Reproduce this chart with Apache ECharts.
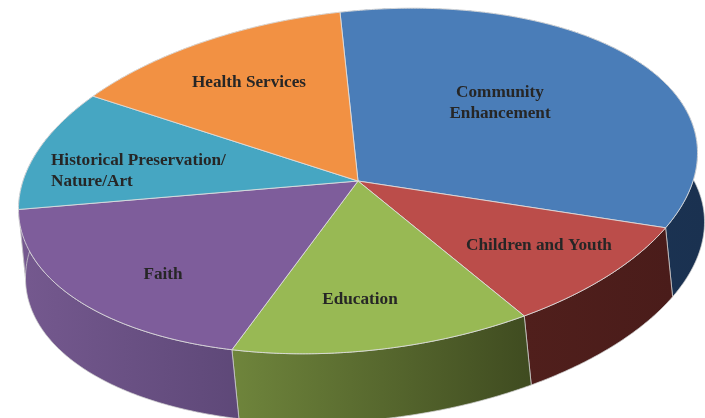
<!DOCTYPE html>
<html>
<head>
<meta charset="utf-8">
<style>html,body{margin:0;padding:0;background:#fff}#c{width:705px;height:418px}</style>
<script src="https://cdn.jsdelivr.net/npm/echarts@6/dist/echarts.min.js"></script>
</head>
<body>
<div id="c"></div>
<script>
const categories = ['Community Enhancement','Children and Youth','Education','Faith','Historical Preservation/Nature/Art','Health Services'];
const shares = [32.8, 9.9, 14.2, 18.9, 10.8, 13.4];
const topColors = ['#4a7db8','#bb4d4a','#98b954','#7e5d9b','#46a6c2','#f29143'];
const wallFrom = ['#1d3a5c','#501f1c','#6f853c','#75598f','#75598f','#a06028'];
const wallTo   = ['#1a3150','#4a1c1a','#3f4b20','#5e4878','#75598f','#a06028'];

const START_DEG = -3.04, CX = 358, CY = 181, RX = 339.5, RY = 170.5, SHEAR = -28, DX = 7, DY = 69;
const total = shares.reduce((a, b) => a + b, 0);

function pt(deg) {
  const t = deg * Math.PI / 180, u = Math.sin(t), v = -Math.cos(t);
  return [CX + RX * u, CY + RY * v + SHEAR * u];
}
function arc(i) {
  let before = 0;
  for (let k = 0; k < i; k++) before += shares[k];
  const a0 = START_DEG + before / total * 360, a1 = a0 + shares[i] / total * 360;
  const pts = [], n = Math.ceil((a1 - a0) * 2);
  for (let s = 0; s <= n; s++) pts.push(pt(a0 + (a1 - a0) * s / n));
  return pts;
}
const chart = echarts.init(document.getElementById('c'), null, {renderer: 'canvas'});
const rows = shares.map((v, i) => [i, v]);

const txt = (text, x, y, align) => ({
  type: 'text', x, y, z: 50, silent: true,
  style: {text, font: 'bold 17.2px "Liberation Serif", serif', fill: '#262626',
          align: align || 'center', verticalAlign: 'middle', lineHeight: 21}
});

chart.setOption({
  animation: false,
  backgroundColor: '#ffffff',
  series: [
    {
      type: 'custom', coordinateSystem: 'none', z: 1, silent: true, data: rows,
      renderItem(p, api) {
        const i = api.value(0), a = arc(i);
        const low = a.map(q => [q[0] + DX, q[1] + DY]).reverse();
        return {type: 'polygon', shape: {points: a.concat(low)},
          style: {
            fill: new echarts.graphic.LinearGradient(0, 0, 1, 0, [
              {offset: 0, color: wallFrom[i]}, {offset: 1, color: wallTo[i]}]),
            stroke: 'rgba(205,205,205,0.75)', lineWidth: 1}};
      }
    },
    {
      type: 'custom', coordinateSystem: 'none', z: 2, silent: true, data: rows,
      renderItem(p, api) {
        const i = api.value(0);
        return {type: 'polygon', shape: {points: [[CX, CY]].concat(arc(i))},
          style: {fill: topColors[i], stroke: 'rgba(222,222,222,0.85)', lineWidth: 1}};
      }
    }
  ],
  graphic: {elements: [
    txt('Community\nEnhancement', 500, 103),
    txt('Children and Youth', 539, 246),
    txt('Education', 360, 300),
    txt('Faith', 163, 275),
    txt('Historical Preservation/\nNature/Art', 51, 171, 'left'),
    txt('Health Services', 249, 83)
  ]}
});
</script>
</body>
</html>
